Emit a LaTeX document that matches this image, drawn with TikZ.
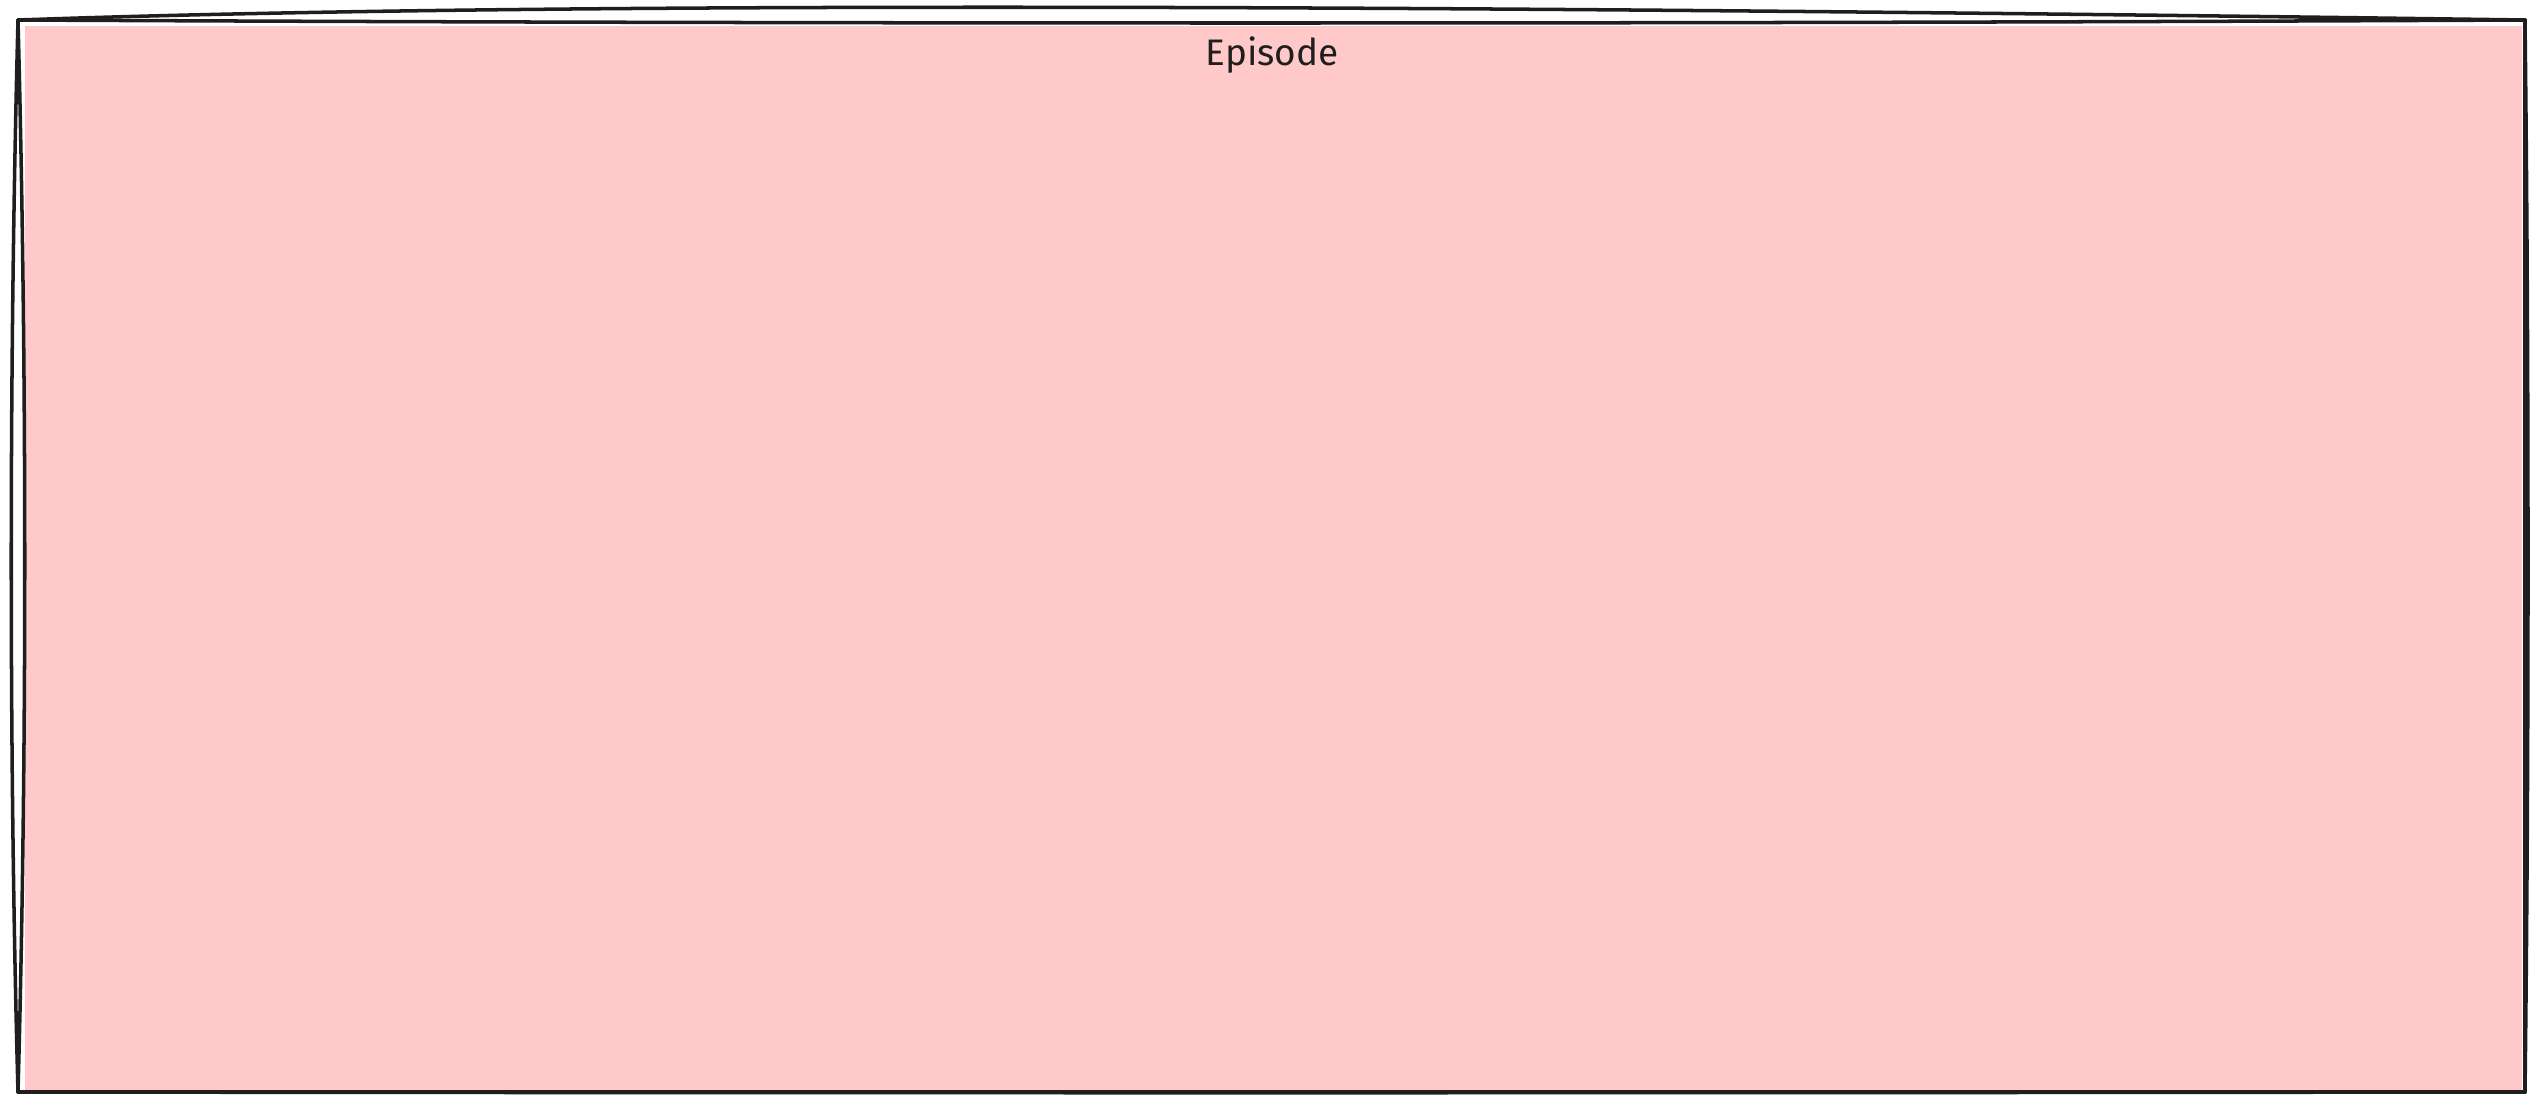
\documentclass[tikz,border=0pt]{standalone}
\usepackage{fontspec}
\setmainfont{Fira Sans}
\usepackage{tikz}
\definecolor{episodefill}{HTML}{FFC9C9}
\definecolor{inkline}{HTML}{1E1E1E}
\def\drawFrame{
\coordinate (TL) at (0.18,10.93);
\coordinate (TR) at (25.25,10.93);
\coordinate (BR) at (25.25,0.21);
\coordinate (BL) at (0.18,0.21);
}

\begin{document}
\begin{tikzpicture}[x=1cm,y=1cm]
	\useasboundingbox (0,0) rectangle (25.45,11.13);
	\drawFrame
	\fill[color=episodefill] (0.25,10.87) rectangle (25.22,0.23);
	\draw[color=inkline, line width=1pt, line cap=round] (TL) .. controls (5.0,11.10) and (13.0,11.10) .. (TR);
	\draw[color=inkline, line width=1pt, line cap=round] (TL) .. controls (8.0,10.89) and (17.0,10.89) .. (TR);
	\draw[color=inkline, line width=1pt, line cap=round] (TL) .. controls (0.09,7.5) and (0.09,3.5) .. (BL);
	\draw[color=inkline, line width=1pt, line cap=round] (TL) .. controls (0.27,7.5) and (0.27,3.5) .. (BL);
	\draw[color=inkline, line width=1pt, line cap=round] (BL) -- (BR);
	\draw[color=inkline, line width=1pt, line cap=round] (BL) .. controls (8.0,0.20) and (17.0,0.20) .. (BR);
	\draw[color=inkline, line width=1pt, line cap=round] (TR) -- (BR);
	\draw[color=inkline, line width=1pt, line cap=round] (TR) .. controls (25.29,7.5) and (25.29,3.5) .. (BR);
	\node[color=inkline, font=\fontsize{10.5}{12}\selectfont, anchor=base] (title) at (12.72,10.48) {Episode};
\end{tikzpicture}
\end{document}
